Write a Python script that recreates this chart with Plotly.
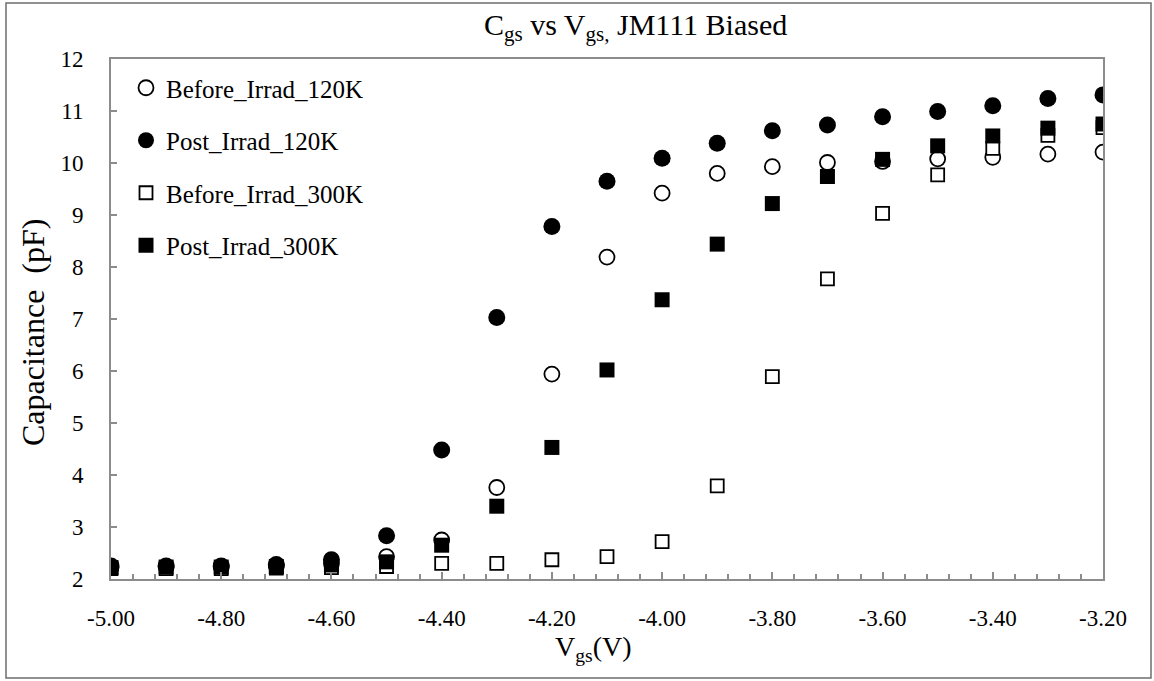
import plotly.graph_objects as go

vgs = [-5.0, -4.9, -4.8, -4.7, -4.6, -4.5, -4.4, -4.3, -4.2, -4.1,
       -4.0, -3.9, -3.8, -3.7, -3.6, -3.5, -3.4, -3.3, -3.2]

before_120k = [2.22, 2.23, 2.23, 2.25, 2.30, 2.43, 2.75, 3.76, 5.94, 8.19,
               9.42, 9.80, 9.93, 10.01, 10.03, 10.08, 10.11, 10.17, 10.21]
post_120k = [2.25, 2.25, 2.25, 2.28, 2.37, 2.83, 4.48, 7.03, 8.78, 9.65,
             10.09, 10.38, 10.62, 10.73, 10.89, 10.99, 11.10, 11.24, 11.31]
before_300k = [2.20, 2.20, 2.20, 2.21, 2.22, 2.24, 2.30, 2.30, 2.37, 2.43,
               2.72, 3.79, 5.89, 7.77, 9.03, 9.77, 10.28, 10.53, 10.68]
post_300k = [2.22, 2.23, 2.23, 2.24, 2.27, 2.33, 2.65, 3.40, 4.53, 6.02,
             7.37, 8.44, 9.22, 9.74, 10.07, 10.33, 10.52, 10.67, 10.75]

series_names = ["Before_Irrad_120K", "Post_Irrad_120K", "Before_Irrad_300K", "Post_Irrad_300K"]

x_tick_vals = [-5.0, -4.8, -4.6, -4.4, -4.2, -4.0, -3.8, -3.6, -3.4, -3.2]
x_tick_text = ["-5.00", "-4.80", "-4.60", "-4.40", "-4.20", "-4.00", "-3.80", "-3.60", "-3.40", "-3.20"]

FONT = "Liberation Serif, Times New Roman, serif"
GRAY = "#8c8c8c"

W, H = 1154, 681
L, R, T, B = 111, 51, 59, 102
PW = W - L - R
PH = H - T - B


def px_x(p):
    return (p - L) / PW


def px_y(p):
    return (H - B - p) / PH


fig = go.Figure()

styles = [
    dict(symbol="circle", size=15, color="white", line=dict(color="black", width=1.8)),
    dict(symbol="circle", size=17, color="black", line=dict(color="black", width=0)),
    dict(symbol="square", size=13, color="white", line=dict(color="black", width=1.8)),
    dict(symbol="square", size=15, color="black", line=dict(color="black", width=0)),
]
for name, ys, st, g in zip(series_names, [before_120k, post_120k, before_300k, post_300k], styles, "abcd"):
    fig.add_trace(go.Scatter(x=vgs, y=ys, mode="markers", name=name, marker=st, legendgroup=g))

fig.update_layout(
    width=W, height=H,
    margin=dict(l=L, r=R, t=T, b=B, pad=0),
    paper_bgcolor="white", plot_bgcolor="white",
    font=dict(family=FONT, color="black", size=23),
    showlegend=True,
    legend=dict(
        x=px_x(126), y=px_y(65), xanchor="left", yanchor="top",
        font=dict(family=FONT, size=25, color="black"),
        bgcolor="rgba(0,0,0,0)", tracegroupgap=17, itemsizing="trace",
    ),
    xaxis=dict(
        range=[-5.0, -3.2], tickvals=x_tick_vals, ticktext=x_tick_text,
        showgrid=False, zeroline=False,
        showline=True, linecolor=GRAY, linewidth=2, mirror=True,
        ticks="inside", ticklen=7, tickcolor=GRAY, tickwidth=1.5,
        minor=dict(dtick=0.04, tick0=-5.0, ticks="inside", ticklen=5, tickcolor=GRAY, tickwidth=1.5, showgrid=False),
        tickfont=dict(family=FONT, size=23, color="black"),
        ticklabelstandoff=17,
    ),
    yaxis=dict(
        range=[2, 12], dtick=1, tick0=2,
        showgrid=False, zeroline=False,
        showline=True, linecolor=GRAY, linewidth=2, mirror=True,
        ticks="inside", ticklen=6, tickcolor=GRAY, tickwidth=1.5,
        tickfont=dict(family=FONT, size=23, color="black"),
        ticklabelstandoff=21,
    ),
)

# outer chart border
fig.add_shape(type="rect", xref="paper", yref="paper",
              x0=px_x(6), x1=px_x(1151), y0=px_y(678), y1=px_y(3),
              line=dict(color="#6e6e6e", width=1.5), fillcolor="rgba(0,0,0,0)", layer="below")

fig.add_annotation(text="C<sub>gs</sub> vs V<sub>gs,</sub> JM111 Biased",
                   xref="paper", yref="paper", x=px_x(635), y=px_y(27),
                   xanchor="center", yanchor="middle", showarrow=False,
                   font=dict(family=FONT, size=30, color="black"))
fig.add_annotation(text="Capacitance  (pF)",
                   xref="paper", yref="paper", x=px_x(33), y=px_y(333),
                   xanchor="center", yanchor="middle", showarrow=False, textangle=-90,
                   font=dict(family=FONT, size=32, color="black"))
fig.add_annotation(text="V<sub>gs</sub>(V)",
                   xref="paper", yref="paper", x=px_x(593), y=px_y(648),
                   xanchor="center", yanchor="middle", showarrow=False,
                   font=dict(family=FONT, size=28, color="black"))

fig.write_html("out.html")
